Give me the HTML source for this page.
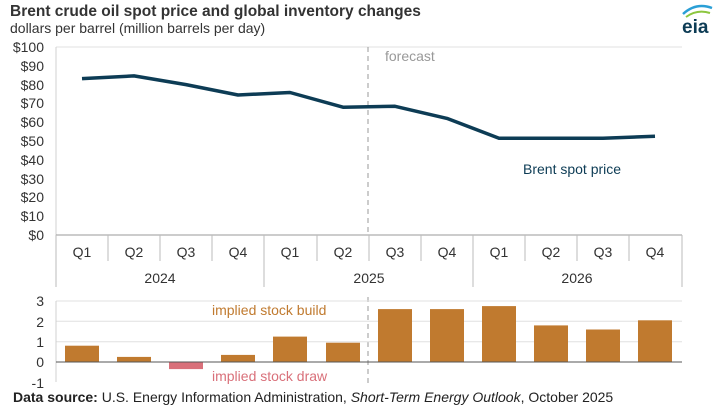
<!DOCTYPE html>
<html><head><style>
body{margin:0;background:#fff;}
svg text{font-family:"Liberation Sans",Arial,sans-serif;}
</style></head><body>
<svg width="720" height="414" viewBox="0 0 720 414" xmlns="http://www.w3.org/2000/svg">
<text x="10" y="16" font-size="15.5" font-weight="bold" fill="#333">Brent crude oil spot price and global inventory changes</text>
<text x="10" y="33" font-size="14" fill="#333">dollars per barrel (million barrels per day)</text>
<g>
<path d="M683 14 Q696 2 712 8" stroke="#2a9fd6" stroke-width="2.5" fill="none"/>
<path d="M686 17 Q697 9 710 13" stroke="#8cc63f" stroke-width="2" fill="none"/>
<text x="682" y="33" font-size="19" font-weight="bold" fill="#0d3c55">eia</text>
</g>
<line x1="56" y1="47" x2="682" y2="47" stroke="#e0e0e0"/>
<line x1="56" y1="47" x2="56" y2="235" stroke="#d0d0d0"/>
<line x1="56" y1="235" x2="682" y2="235" stroke="#999"/>
<g font-size="14" fill="#333" text-anchor="end">
<text x="44" y="52">$100</text><text x="44" y="71">$90</text><text x="44" y="90">$80</text>
<text x="44" y="108">$70</text><text x="44" y="127">$60</text><text x="44" y="146">$50</text>
<text x="44" y="165">$40</text><text x="44" y="184">$30</text><text x="44" y="202">$20</text>
<text x="44" y="221">$10</text><text x="44" y="240">$0</text>
</g>
<g stroke="#bbb" stroke-width="1">
<line x1="56" y1="235" x2="56" y2="287"/>
<line x1="108" y1="235" x2="108" y2="261"/>
<line x1="160" y1="235" x2="160" y2="261"/>
<line x1="212" y1="235" x2="212" y2="261"/>
<line x1="264" y1="235" x2="264" y2="287"/>
<line x1="317" y1="235" x2="317" y2="261"/>
<line x1="369" y1="235" x2="369" y2="261"/>
<line x1="421" y1="235" x2="421" y2="261"/>
<line x1="473" y1="235" x2="473" y2="287"/>
<line x1="525" y1="235" x2="525" y2="261"/>
<line x1="577" y1="235" x2="577" y2="261"/>
<line x1="629" y1="235" x2="629" y2="261"/>
<line x1="682" y1="235" x2="682" y2="287"/>
</g>
<g font-size="14" fill="#333" text-anchor="middle">
<text x="82" y="257">Q1</text><text x="134" y="257">Q2</text><text x="186" y="257">Q3</text><text x="238" y="257">Q4</text>
<text x="290" y="257">Q1</text><text x="343" y="257">Q2</text><text x="395" y="257">Q3</text><text x="447" y="257">Q4</text>
<text x="499" y="257">Q1</text><text x="551" y="257">Q2</text><text x="603" y="257">Q3</text><text x="655" y="257">Q4</text>
<text x="160" y="283">2024</text><text x="369" y="283">2025</text><text x="577" y="283">2026</text>
</g>
<line x1="368" y1="47" x2="368" y2="235" stroke="#999" stroke-dasharray="5,4"/>
<line x1="368" y1="297" x2="368" y2="383" stroke="#999" stroke-dasharray="5,4"/>
<text x="385" y="61" font-size="14" fill="#999">forecast</text>
<polyline fill="none" stroke="#0d3c55" stroke-width="3.5" stroke-linejoin="round"
points="82,78.6 134,75.9 186,84.6 238,95 290,92.5 343,107.2 395,106.3 447,118.4 499,138.2 551,138.2 603,138.2 655,136.3"/>
<text x="523" y="174" font-size="14" fill="#0d3c55">Brent spot price</text>
<g stroke="#e0e0e0">
<line x1="56" y1="301" x2="682" y2="301"/>
<line x1="56" y1="321.3" x2="682" y2="321.3"/>
<line x1="56" y1="341.7" x2="682" y2="341.7"/>
</g>
<line x1="56" y1="301" x2="56" y2="382" stroke="#d0d0d0"/>
<g fill="#c07a2f">
<rect x="65" y="345.7" width="34" height="16.3"/>
<rect x="117" y="356.9" width="34" height="5.1"/>
<rect x="221" y="354.9" width="34" height="7.1"/>
<rect x="273" y="336.6" width="34" height="25.4"/>
<rect x="326" y="342.7" width="34" height="19.3"/>
<rect x="378" y="309.1" width="34" height="52.9"/>
<rect x="430" y="309.1" width="34" height="52.9"/>
<rect x="482" y="306.1" width="34" height="55.9"/>
<rect x="534" y="325.4" width="34" height="36.6"/>
<rect x="586" y="329.5" width="34" height="32.5"/>
<rect x="638" y="320.3" width="34" height="41.7"/>
</g>
<rect x="169" y="362" width="34" height="7.1" fill="#d9707a"/>
<line x1="56" y1="362" x2="682" y2="362" stroke="#555" stroke-width="1"/>
<g font-size="14" fill="#333" text-anchor="end">
<text x="44" y="306">3</text><text x="44" y="327">2</text><text x="44" y="347">1</text>
<text x="44" y="367">0</text><text x="44" y="388">-1</text>
</g>
<text x="212" y="315" font-size="14" fill="#c07a2f">implied stock build</text>
<text x="212" y="381" font-size="14" fill="#d9707a">implied stock draw</text>
<text x="13" y="402" font-size="14" fill="#222"><tspan font-weight="bold">Data source:</tspan> U.S. Energy Information Administration, <tspan font-style="italic">Short-Term Energy Outlook</tspan>, October 2025</text>
</svg>
</body></html>
